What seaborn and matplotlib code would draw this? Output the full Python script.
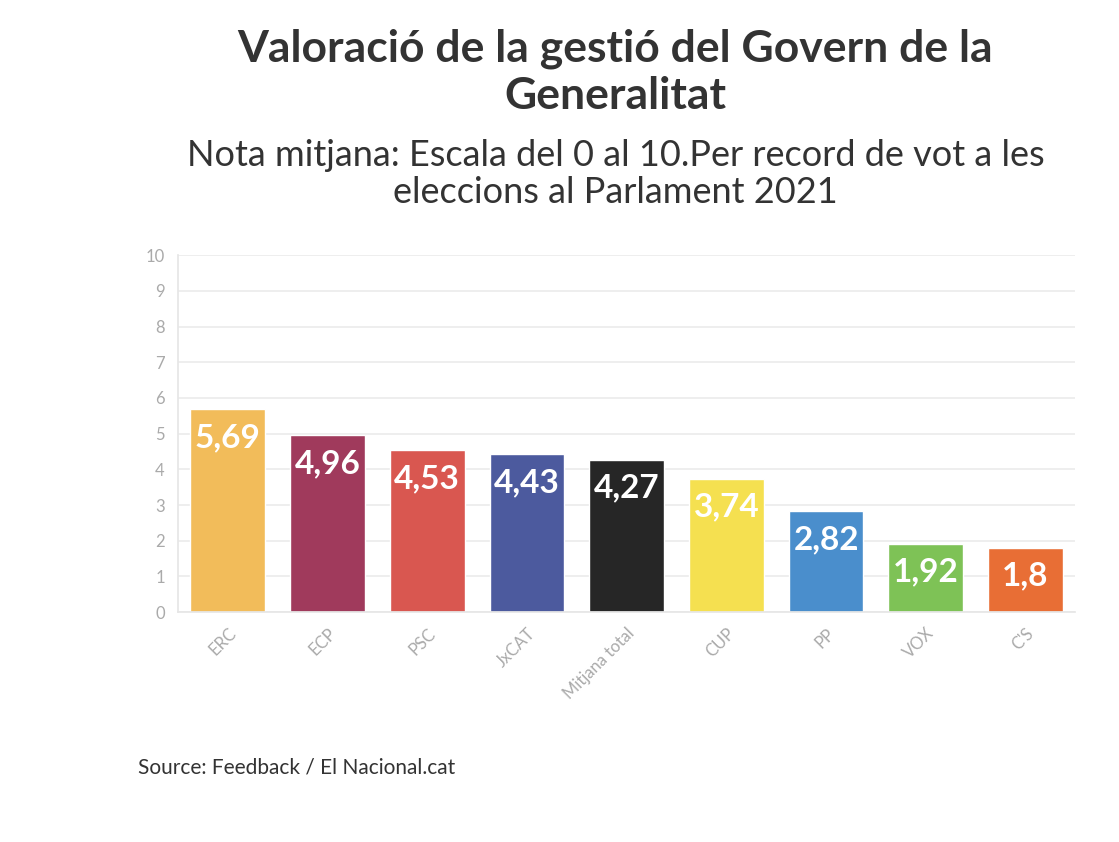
import matplotlib
matplotlib.use("Agg")
import matplotlib.pyplot as plt
import seaborn as sns
import pandas as pd

categories = ["ERC", "ECP", "PSC", "JxCAT", "Mitjana total", "CUP", "PP", "VOX", "C'S"]
values = [5.69, 4.96, 4.53, 4.43, 4.27, 3.74, 2.82, 1.92, 1.8]
labels = ["5,69", "4,96", "4,53", "4,43", "4,27", "3,74", "2,82", "1,92", "1,8"]
colors = ["#F2BC5A", "#A03A5C", "#D95750", "#4C5A9E", "#262626", "#F5E050", "#4A8ECC", "#7EC256", "#E86E35"]

sns.set_theme(style="white")
plt.rcParams['font.family'] = ['Lato', 'DejaVu Sans']

df = pd.DataFrame({"cat": categories, "val": values})
fig = plt.figure(figsize=(11.19, 8.42), dpi=100)
ax = fig.add_axes([0.159, 0.273, 0.802, 0.424])
sns.barplot(data=df, x="cat", y="val", hue="cat", palette=colors, width=0.75, ax=ax, legend=False, saturation=1)
ax.set_ylim(0, 10)
ax.set_xlim(-0.5, len(categories) - 0.5)
ax.set_yticks(range(0, 11))
ax.yaxis.grid(True, color="#EBEBEB", linewidth=1.2)
ax.set_axisbelow(True)
for s in ["top", "right"]:
    ax.spines[s].set_visible(False)
ax.spines["left"].set_color("#E6E6E6")
ax.spines["bottom"].set_color("#E6E6E6")
ax.tick_params(axis="y", colors="#AAAAAA", labelsize=12, length=6, color="#E6E6E6")
ax.tick_params(axis="x", colors="#AAAAAA", labelsize=12, length=6, color="#E6E6E6")
plt.setp(ax.get_xticklabels(), rotation=45, ha="right", rotation_mode="anchor")
ax.set_xlabel("")
ax.set_ylabel("")
for i, (v, l) in enumerate(zip(values, labels)):
    ax.annotate(l, (i, v), xytext=(0, -10), textcoords="offset points", ha="center", va="top",
                color="white", fontsize=24, fontweight="bold")
fig.text(0.55, 0.914, "Valoració de la gestió del Govern de la\nGeneralitat", ha="center", va="center",
         fontsize=32, fontweight="bold", color="#333333", linespacing=1.2)
fig.text(0.55, 0.793, "Nota mitjana: Escala del 0 al 10.Per record de vot a les\neleccions al Parlament 2021",
         ha="center", va="center", fontsize=26, color="#333333", linespacing=1.15)
fig.text(0.123, 0.088, "Source: Feedback / El Nacional.cat", fontsize=15, color="#333333", va="center")
fig.savefig("out.png", dpi=100, facecolor="white")
